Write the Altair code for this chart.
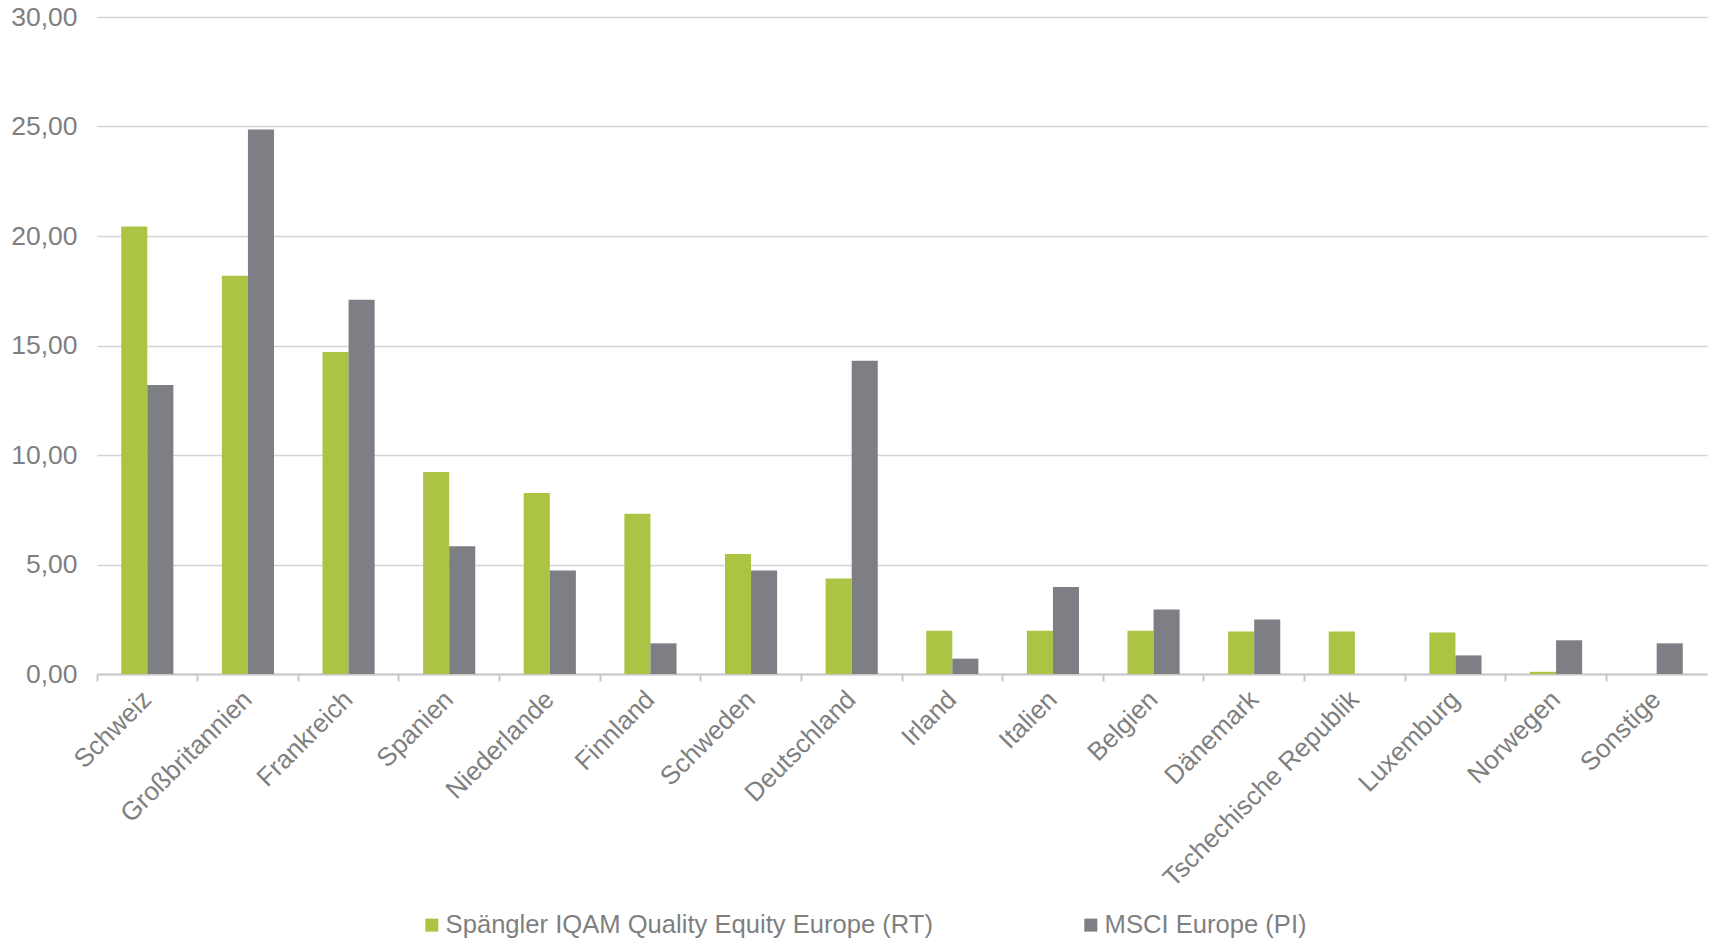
import altair as alt
import pandas as pd

countries = ["Schweiz", "Großbritannien", "Frankreich", "Spanien", "Niederlande",
             "Finnland", "Schweden", "Deutschland", "Irland", "Italien", "Belgien",
             "Dänemark", "Tschechische Republik", "Luxemburg", "Norwegen", "Sonstige"]
fund = [20.43, 18.19, 14.7, 9.22, 8.27, 7.32, 5.48, 4.36, 1.98, 1.98, 1.98,
        1.94, 1.94, 1.89, 0.1, 0.0]
msci = [13.2, 24.86, 17.09, 5.83, 4.73, 1.4, 4.73, 14.3, 0.7, 3.97, 2.95,
        2.49, 0.0, 0.85, 1.54, 1.40]
series = ["Spängler IQAM Quality Equity Europe (RT)", "MSCI Europe (PI)"]
colors = ["#abc443", "#7d7f84"]

rows = []
for c, a, b in zip(countries, fund, msci):
    rows.append({"Land": c, "Serie": series[0], "Wert": a})
    rows.append({"Land": c, "Serie": series[1], "Wert": b})
df = pd.DataFrame(rows)

label_color = "#7f7f7f"

chart = alt.Chart(df).mark_bar().encode(
    x=alt.X("Land:N", sort=countries, title=None,
            scale=alt.Scale(paddingInner=0, paddingOuter=0),
            axis=alt.Axis(bandPosition=0, labelAngle=-45,
                          labelAlign="right", labelBaseline="middle",
                          labelFontSize=26, labelColor=label_color,
                          labelPadding=14, tickSize=7, tickColor="#c8c8c8",
                          tickWidth=2, domainColor="#c8c8c8", domainWidth=2,
                          grid=False, labelOverlap=False, labelLimit=0)),
    xOffset=alt.XOffset("Serie:N", sort=series,
                        scale=alt.Scale(paddingInner=0, paddingOuter=0.93)),
    y=alt.Y("Wert:Q", title=None,
            scale=alt.Scale(domain=[0, 30], nice=False),
            axis=alt.Axis(values=[0, 5, 10, 15, 20, 25, 30],
                          labelExpr="replace(format(datum.value, '.2f'), '.', ',')",
                          labelFontSize=26.5, labelColor=label_color, labelPadding=20,
                          domain=False, ticks=False, gridColor="#d4d4d4",
                          gridWidth=1.5)),
    color=alt.Color("Serie:N", sort=series,
                    scale=alt.Scale(domain=series, range=colors),
                    legend=alt.Legend(title=None, orient="none", legendX=322, legendY=895,
                                      direction="horizontal", symbolType="square",
                                      symbolSize=169, symbolStrokeWidth=0,
                                      labelFontSize=25.6, labelColor=label_color,
                                      labelOffset=1, columnPadding=144,
                                      labelLimit=0)),
).properties(
    width=1610, height=657,
    autosize=alt.AutoSizeParams(type="none"),
    padding={"left": 97, "top": 17, "right": 6, "bottom": 265},
).configure(font="Liberation Sans").configure_view(stroke=None)

chart.save("out.html", embed_options={"renderer": "svg", "actions": False})
